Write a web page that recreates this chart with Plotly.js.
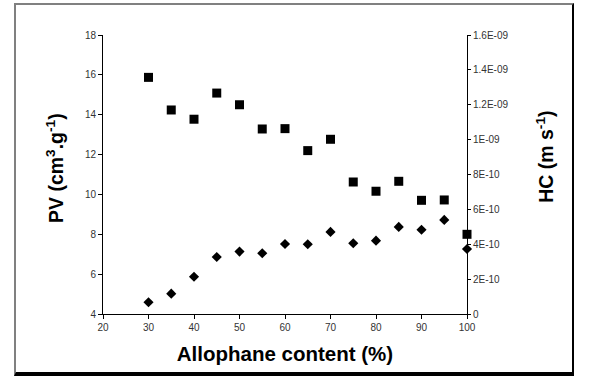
<!DOCTYPE html>
<html>
<head>
<meta charset="utf-8">
<script src="https://cdn.plot.ly/plotly-3.0.1.min.js"></script>
<style>
  html, body { margin: 0; padding: 0; background: #fff; }
  #wrap { position: relative; width: 589px; height: 390px; }
  #chart { position: absolute; left: 0; top: 0; width: 589px; height: 390px; }
  #frame { position: absolute; left: 14px; top: 3px; width: 560px; height: 373px;
           box-sizing: border-box; border-top: 2px solid #808080; border-left: 2px solid #808080;
           border-right: 2px solid #000; border-bottom: 4px solid #000; pointer-events: none; }
</style>
</head>
<body>
<div id="wrap">
  <div id="chart"></div>
  <div id="frame"></div>
</div>
<script>
// Allophane content (%)
const allophane = [30, 35, 40, 45, 50, 55, 60, 65, 70, 75, 80, 85, 90, 95, 100];
// PV (cm3 g-1) - diamonds, left axis
const pv = [4.59, 5.02, 5.87, 6.86, 7.13, 7.05, 7.51, 7.50, 8.12, 7.55, 7.68, 8.37, 8.23, 8.72, 7.26];
// HC (m s-1) - squares, right axis
const hc = [1.357e-9, 1.170e-9, 1.117e-9, 1.267e-9, 1.200e-9, 1.061e-9, 1.063e-9, 0.937e-9,
            1.002e-9, 0.757e-9, 0.704e-9, 0.761e-9, 0.652e-9, 0.654e-9, 0.457e-9];
// Tick labels
const xTickVals = [20, 30, 40, 50, 60, 70, 80, 90, 100];
const pvTickVals = [4, 6, 8, 10, 12, 14, 16, 18];
const hcTickVals = [0, 2e-10, 4e-10, 6e-10, 8e-10, 1e-9, 1.2e-9, 1.4e-9, 1.6e-9];
const hcTickText = ['0', '2E-10', '4E-10', '6E-10', '8E-10', '1E-09', '1.2E-09', '1.4E-09', '1.6E-09'];
// Titles
const xTitle = 'Allophane content (%)';
const pvTitle = 'PV (cm<sup>3</sup>.g<sup>-1</sup>)';
const hcTitle = 'HC (m s<sup>-1</sup>)';

const tickFont = { family: 'Liberation Sans, Arial, sans-serif', size: 10, color: '#333' };
const xTitleFont = { family: 'Liberation Sans, Arial, sans-serif', size: 20.5, color: '#000', weight: 'bold' };
const yTitleFont = { family: 'Liberation Sans, Arial, sans-serif', size: 19.5, color: '#000', weight: 'bold' };

const traces = [
  { x: allophane, y: hc, yaxis: 'y2', type: 'scatter', mode: 'markers', cliponaxis: false,
    marker: { symbol: 'square', size: 9, color: '#000' }, name: 'HC' },
  { x: allophane, y: pv, yaxis: 'y', type: 'scatter', mode: 'markers', cliponaxis: false,
    marker: { symbol: 'diamond', size: 7.8, color: '#000' }, name: 'PV' }
];

const layout = {
  width: 589, height: 390,
  margin: { l: 103, r: 122, t: 35, b: 76 },
  paper_bgcolor: '#fff', plot_bgcolor: '#fff',
  showlegend: false,
  xaxis: {
    range: [20, 100], tickvals: xTickVals, ticks: 'outside', ticklen: 4, tickcolor: '#000',
    showline: true, linecolor: '#000', linewidth: 1, showgrid: false, zeroline: false,
    tickfont: tickFont, automargin: false,
    title: { text: xTitle, font: xTitleFont, standoff: 14 }
  },
  yaxis: {
    range: [4, 18], tickvals: pvTickVals, ticks: 'outside', ticklen: 4, tickcolor: '#000',
    showline: true, linecolor: '#000', linewidth: 1, showgrid: false, zeroline: false,
    tickfont: tickFont, automargin: false
  },
  yaxis2: {
    range: [0, 1.6e-9], tickvals: hcTickVals, ticktext: hcTickText, overlaying: 'y', side: 'right',
    ticks: 'outside', ticklen: 3, tickcolor: '#000',
    showline: true, linecolor: '#000', linewidth: 1, showgrid: false, zeroline: false,
    tickfont: tickFont, automargin: false
  },
  yaxis3: {
    range: [0, 1.6e-9], tickvals: hcTickVals, overlaying: 'y', side: 'right', anchor: 'x',
    ticks: 'inside', ticklen: 3, tickcolor: '#000', showticklabels: false,
    showline: false, showgrid: false, zeroline: false
  },
  annotations: [
    { text: pvTitle, xref: 'paper', yref: 'paper', x: -0.132, y: 0.523, xanchor: 'center', yanchor: 'middle',
      textangle: -90, showarrow: false, font: yTitleFont },
    { text: hcTitle, xref: 'paper', yref: 'paper', x: 1.214, y: 0.563, xanchor: 'center', yanchor: 'middle',
      textangle: -90, showarrow: false, font: yTitleFont }
  ]
};

Plotly.newPlot('chart', traces, layout, { displayModeBar: false, staticPlot: true });
</script>
</body>
</html>
